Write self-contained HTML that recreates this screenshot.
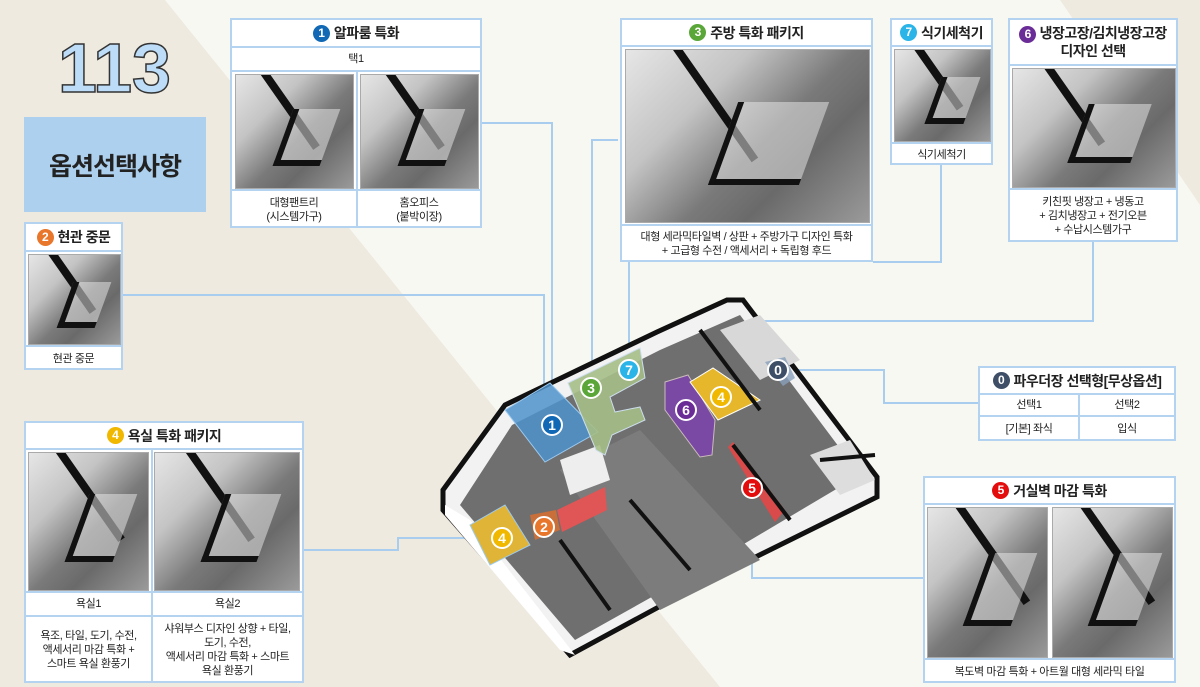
<!DOCTYPE html>
<html><head><meta charset="utf-8">
<style>
*{margin:0;padding:0;box-sizing:border-box}
body{width:1200px;height:687px;overflow:hidden;background:#f8f8f3;position:relative;font-family:"Liberation Sans","Noto Sans CJK KR","NanumGothic",sans-serif;color:#222}
.abs{position:absolute}
.box{position:absolute;background:#fff;border:2px solid #b3d3f0}
.hd{position:absolute;left:0;right:0;top:0;border-bottom:2px solid #b3d3f0;text-align:center;font-weight:bold;font-size:14px;display:flex;align-items:center;justify-content:center;gap:4px;letter-spacing:-0.5px}
.num{display:inline-block;width:17px;height:17px;border-radius:50%;color:#fff;font-size:12px;line-height:17px;text-align:center;font-weight:bold}
.cell{position:absolute;text-align:center;font-size:11px;display:flex;align-items:center;justify-content:center;line-height:14px;letter-spacing:-0.4px}
.img{position:absolute;background:linear-gradient(135deg,#e6e6e6 0%,#c4c4c4 30%,#7a7a7a 55%,#6a6a6a 70%,#9a9a9a 100%);border:1px solid #aaa;overflow:hidden}
.img::before{content:"";position:absolute;left:15%;top:-10%;width:8px;height:90%;background:#111;transform:rotate(-35deg);transform-origin:top}
.img::after{content:"";position:absolute;left:40%;top:30%;width:35%;height:45%;border:6px solid #111;border-top:none;border-right:none;background:rgba(235,235,235,.5);transform:skewX(-20deg)}
.vl{position:absolute;background:#b3d3f0}
</style></head><body>
<svg class="abs" style="left:0;top:0" width="1200" height="687">
<polygon points="0,0 165,0 720,687 0,687" fill="#efeae0"/>
<polygon points="1060,0 1200,0 1200,205" fill="#efeae0"/>
<g stroke="#a9cdee" stroke-width="2" fill="none">
<polyline points="482,123 552,123 552,420"/>
<polyline points="123,295 544,295 544,520"/>
<polyline points="618,140 592,140 592,385"/>
<polyline points="629,262 629,370"/>
<polyline points="941,165 941,262 873,262"/>
<polyline points="1093,242 1093,321 686,321 686,410"/>
<polyline points="978,403 884,403 884,370 778,370"/>
<polyline points="304,550 398,550 398,538 502,538"/>
<polyline points="923,578 752,578 752,488"/>
</g>
<polygon points="443,490 505,405 657,332 727,300 743,300 877,477 877,497 703,583 570,655 443,510" fill="#f2f2f2" stroke="#111" stroke-width="5"/>
<polygon points="460,505 512,425 660,350 740,315 860,475 700,570 575,640" fill="#6f6f6f"/>
<polygon points="560,470 640,430 760,560 660,610" fill="#7c7c7c"/>
<polygon points="445,505 470,520 575,655 560,650 445,515" fill="#fff"/>
<polygon points="560,460 600,445 610,480 570,495" fill="#eee"/>
<polygon points="720,330 760,315 800,360 760,380" fill="#d8d8d8"/>
<polygon points="810,455 850,440 875,480 840,495" fill="#ddd"/>
<polygon points="505,410 550,383 598,432 545,462" fill="#4f93cc" fill-opacity="0.85" stroke="#9ccaf0"/>
<polygon points="568,383 640,348 645,378 610,397 615,412 640,407 645,420 612,435 605,455 596,450" fill="#a5be86" fill-opacity="0.9" stroke="#cde"/>
<polygon points="665,382 688,375 715,420 712,455 700,457 665,410" fill="#7a45a8" fill-opacity="0.9" stroke="#cbb"/>
<polygon points="690,382 713,368 760,400 718,420" fill="#e6b72b" stroke="#fff"/>
<polygon points="765,362 785,357 795,378 783,386" fill="#8aa0bb" fill-opacity="0.8"/>
<polygon points="728,447 733,442 785,510 775,522" fill="#d94a4a"/>
<polygon points="557,510 605,487 607,510 562,532" fill="#e05555"/>
<polygon points="530,515 556,510 560,530 535,540" fill="#c86f3a"/>
<polygon points="470,525 505,505 530,545 490,565" fill="#e0b436" stroke="#9ccaf0"/>
<g stroke="#111" stroke-width="4">
<line x1="630" y1="500" x2="690" y2="570"/><line x1="560" y1="540" x2="610" y2="610"/><line x1="733" y1="445" x2="790" y2="520"/>
<line x1="820" y1="460" x2="875" y2="455"/><line x1="700" y1="330" x2="760" y2="410"/>
</g>
<g font-family="Liberation Sans" font-weight="bold" font-size="14" fill="#fff" text-anchor="middle">
<g><circle cx="552" cy="425" r="10" fill="#1168b4" stroke="#fff" stroke-width="2"/><text x="552" y="430">1</text></g>
<g><circle cx="591" cy="388" r="10" fill="#5aa638" stroke="#fff" stroke-width="2"/><text x="591" y="393">3</text></g>
<g><circle cx="629" cy="370" r="10" fill="#2ab4e8" stroke="#fff" stroke-width="2"/><text x="629" y="375">7</text></g>
<g><circle cx="686" cy="410" r="10" fill="#6a2c96" stroke="#fff" stroke-width="2"/><text x="686" y="415">6</text></g>
<g><circle cx="721" cy="397" r="10" fill="#f1b800" stroke="#fff" stroke-width="2"/><text x="721" y="402">4</text></g>
<g><circle cx="778" cy="370" r="10" fill="#3d4e66" stroke="#fff" stroke-width="2"/><text x="778" y="375">0</text></g>
<g><circle cx="752" cy="488" r="10" fill="#e30d0d" stroke="#fff" stroke-width="2"/><text x="752" y="493">5</text></g>
<g><circle cx="544" cy="527" r="10" fill="#e8762b" stroke="#fff" stroke-width="2"/><text x="544" y="532">2</text></g>
<g><circle cx="502" cy="538" r="10" fill="#f1b800" stroke="#fff" stroke-width="2"/><text x="502" y="543">4</text></g>
</g>
</svg>

<div class="abs" style="left:58px;top:28px;font-size:70px;font-weight:bold;color:#bcdcf7;-webkit-text-stroke:1.5px #333;letter-spacing:0px">113</div>
<div class="abs" style="left:24px;top:117px;width:182px;height:95px;background:#acd0ee;display:flex;align-items:center;justify-content:center;font-size:25px;font-weight:bold;letter-spacing:-1px">옵션선택사항</div>

<div class="box" style="left:230px;top:18px;width:252px;height:210px">
<div class="hd" style="height:28px"><span class="num" style="background:#1168b4">1</span>알파룸 특화</div>
<div class="cell" style="left:0;right:0;top:28px;height:24px;border-bottom:2px solid #b3d3f0">택1</div>
<div class="img" style="left:3px;top:54px;width:119px;height:115px"></div>
<div class="img" style="left:128px;top:54px;width:119px;height:115px"></div>
<div class="vl" style="left:124px;top:52px;width:2px;height:156px"></div>
<div class="vl" style="left:0;right:0;top:169px;height:2px"></div>
<div class="cell" style="left:0;width:124px;top:171px;height:37px">대형팬트리<br>(시스템가구)</div>
<div class="cell" style="left:126px;right:0;top:171px;height:37px">홈오피스<br>(붙박이장)</div>
</div>

<div class="box" style="left:24px;top:222px;width:99px;height:148px">
<div class="hd" style="height:28px"><span class="num" style="background:#e8762b">2</span>현관 중문</div>
<div class="img" style="left:2px;top:30px;width:93px;height:91px"></div>
<div class="vl" style="left:0;right:0;top:121px;height:2px"></div>
<div class="cell" style="left:0;right:0;top:123px;height:23px">현관 중문</div>
</div>

<div class="box" style="left:24px;top:421px;width:280px;height:262px">
<div class="hd" style="height:27px"><span class="num" style="background:#f1b800">4</span>욕실 특화 패키지</div>
<div class="img" style="left:2px;top:29px;width:121px;height:139px"></div>
<div class="img" style="left:128px;top:29px;width:146px;height:139px"></div>
<div class="vl" style="left:125px;top:27px;width:2px;height:233px"></div>
<div class="vl" style="left:0;right:0;top:168px;height:2px"></div>
<div class="cell" style="left:0;width:125px;top:170px;height:22px">욕실1</div>
<div class="cell" style="left:127px;right:0;top:170px;height:22px">욕실2</div>
<div class="vl" style="left:0;right:0;top:192px;height:2px"></div>
<div class="cell" style="left:0;width:125px;top:194px;height:66px">욕조, 타일, 도기, 수전,<br>액세서리 마감 특화 +<br>스마트 욕실 환풍기</div>
<div class="cell" style="left:127px;right:0;top:194px;height:66px">샤워부스 디자인 상향 + 타일,<br>도기, 수전,<br>액세서리 마감 특화 + 스마트<br>욕실 환풍기</div>
</div>

<div class="box" style="left:620px;top:18px;width:253px;height:244px">
<div class="hd" style="height:27px"><span class="num" style="background:#5aa638">3</span>주방 특화 패키지</div>
<div class="img" style="left:3px;top:29px;width:245px;height:174px"></div>
<div class="vl" style="left:0;right:0;top:204px;height:2px"></div>
<div class="cell" style="left:0;right:0;top:206px;height:36px">대형 세라믹타일벽 / 상판 + 주방가구 디자인 특화<br>+ 고급형 수전 / 액세서리 + 독립형 후드</div>
</div>

<div class="box" style="left:890px;top:18px;width:103px;height:147px">
<div class="hd" style="height:27px"><span class="num" style="background:#2ab4e8">7</span>식기세척기</div>
<div class="img" style="left:2px;top:29px;width:97px;height:93px"></div>
<div class="vl" style="left:0;right:0;top:122px;height:2px"></div>
<div class="cell" style="left:0;right:0;top:124px;height:21px">식기세척기</div>
</div>

<div class="box" style="left:1008px;top:18px;width:170px;height:224px">
<div class="hd" style="height:46px;line-height:17px;flex-direction:column;gap:0"><div><span class="num" style="background:#6a2c96">6</span> 냉장고장/김치냉장고장</div><div>디자인 선택</div></div>
<div class="img" style="left:2px;top:48px;width:164px;height:120px"></div>
<div class="vl" style="left:0;right:0;top:168px;height:2px"></div>
<div class="cell" style="left:0;right:0;top:170px;height:52px">키친핏 냉장고 + 냉동고<br>+ 김치냉장고 + 전기오븐<br>+ 수납시스템가구</div>
</div>

<div class="box" style="left:978px;top:366px;width:198px;height:75px">
<div class="hd" style="height:27px"><span class="num" style="background:#3d4e66">0</span>파우더장 선택형[무상옵션]</div>
<div class="cell" style="left:0;width:98px;top:27px;height:22px;border-bottom:2px solid #b3d3f0">선택1</div>
<div class="cell" style="left:100px;right:0;top:27px;height:22px;border-bottom:2px solid #b3d3f0">선택2</div>
<div class="vl" style="left:98px;top:27px;width:2px;height:46px"></div>
<div class="cell" style="left:0;width:98px;top:49px;height:24px">[기본] 좌식</div>
<div class="cell" style="left:100px;right:0;top:49px;height:24px">입식</div>
</div>

<div class="box" style="left:923px;top:476px;width:253px;height:207px">
<div class="hd" style="height:27px"><span class="num" style="background:#e30d0d">5</span>거실벽 마감 특화</div>
<div class="img" style="left:2px;top:29px;width:121px;height:151px"></div>
<div class="img" style="left:127px;top:29px;width:121px;height:151px"></div>
<div class="vl" style="left:0;right:0;top:180px;height:2px"></div>
<div class="cell" style="left:0;right:0;top:182px;height:23px">복도벽 마감 특화 + 아트월 대형 세라믹 타일</div>
</div>
</body></html>
